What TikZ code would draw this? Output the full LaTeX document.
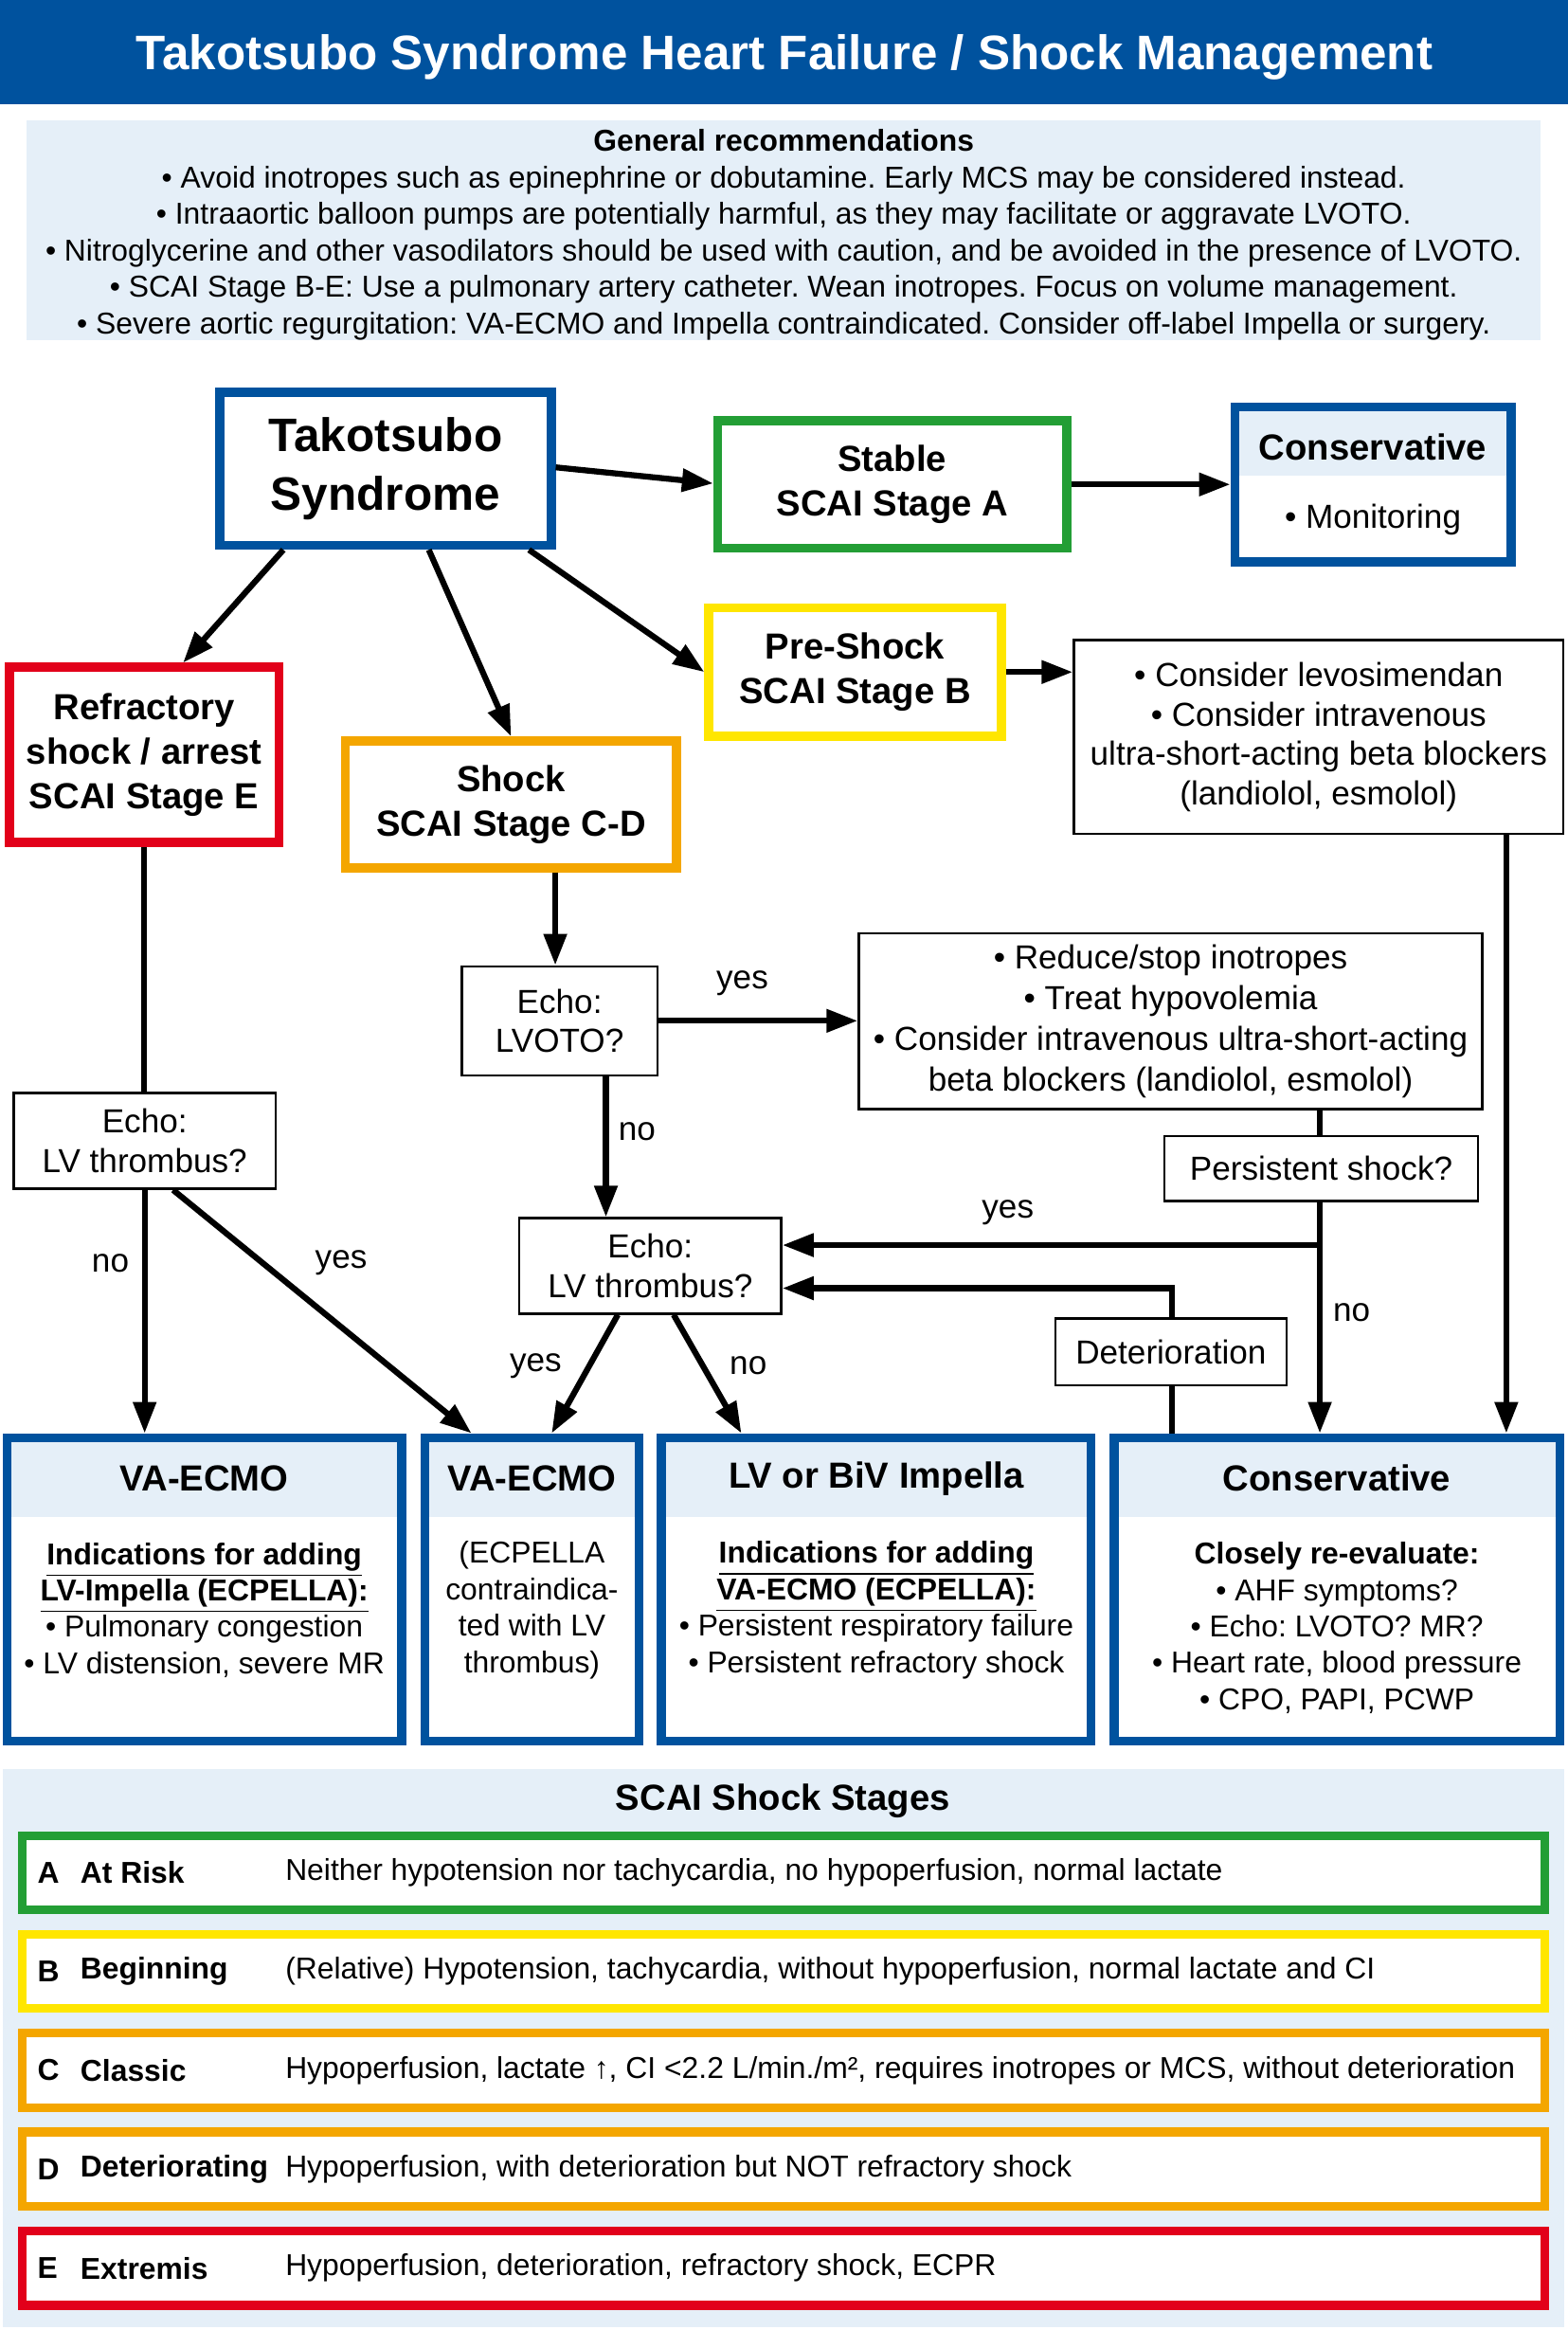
\documentclass[tikz,border=0pt]{standalone}
\usepackage{fontspec}
\setmainfont{Liberation Sans}
\usetikzlibrary{arrows.meta,fit,calc}
\definecolor{tblue}{RGB}{0,82,158}
\definecolor{lblue}{RGB}{229,239,248}
\definecolor{sgreen}{RGB}{35,158,53}
\definecolor{syellow}{RGB}{255,230,0}
\definecolor{sorange}{RGB}{244,166,0}
\definecolor{sred}{RGB}{226,0,26}
\newcommand\ftitle{\fontsize{16.3}{19}\selectfont\bfseries}
\newcommand\ftako{\fontsize{15.8}{19.75}\selectfont\bfseries}
\newcommand\fhead{\fontsize{12.2}{15}\selectfont\bfseries}
\newcommand\fbody{\fontsize{11.2}{13.3}\selectfont}
\newcommand\fbodyb{\fontsize{11.2}{13.8}\selectfont}
\newcommand\fsmall{\fontsize{10.15}{12.25}\selectfont}
\frenchspacing
\tikzset{
  sbox/.style={draw=#1, line width=3pt, inner sep=0pt, align=center, font=\fhead},
  rowbox/.style={draw=#1, fill=white, line width=3pt, inner sep=0pt},
  tbox/.style={draw=black, line width=0.8pt, inner sep=0pt, align=center, font=\fbody},
  sz/.style n args={2}{minimum width=#1pt, minimum height=#2pt},
  arr/.style={line width=2pt, -{Triangle[length=10.5pt,width=7.5pt]}},
  ln/.style={line width=2pt},
  lbl/.style={font=\fbody, inner sep=0pt},
  rtxt/.style={font=\fsmall, inner sep=0pt, anchor=west},
  rtxtb/.style={font=\fsmall\bfseries, inner sep=0pt, anchor=west},
}
\begin{document}
\begin{tikzpicture}[x=0.5pt,y=-0.5pt]
\useasboundingbox (0,0) rectangle (1055,1568);
% header
\fill[tblue] (0,0) rectangle (1055,70);
\node[text=white,font=\ftitle] (title) at (528,38.5) {Takotsubo Syndrome Heart Failure / Shock Management};
% general recommendations
\fill[lblue] (18,81) rectangle (1037,229);
\node[font=\fsmall,align=center,inner sep=0pt] (genrec) at (527.5,158) {\textbf{General recommendations}\\
• Avoid inotropes such as epinephrine or dobutamine. Early MCS may be considered instead.\\
• Intraaortic balloon pumps are potentially harmful, as they may facilitate or aggravate LVOTO.\\
• Nitroglycerine and other vasodilators should be used with caution, and be avoided in the presence of LVOTO.\\
• SCAI Stage B-E: Use a pulmonary artery catheter. Wean inotropes. Focus on volume management.\\
• Severe aortic regurgitation: VA-ECMO and Impella contraindicated. Consider off-label Impella or surgery.};
% flowchart boxes
\node[sbox=tblue,sz={111.5}{51.5},font=\ftako] (tako) at (259.5,315.5) {Takotsubo\\Syndrome};
\node[sbox=sgreen,sz={117.5}{43}] (stable) at (600.5,326) {Stable\\SCAI Stage A};
\fill[lblue] (831,274) rectangle (1017,320);
\node[sbox=tblue,sz={93}{52}] (constop) at (924,326) {};
\node[font=\fhead,inner sep=0pt] (constoph) at (924,301) {Conservative};
\node[font=\fbody,inner sep=0pt] (constopb) at (924,349.6) {• Monitoring};
\node[sbox=syellow,sz={98.5}{43.25}] (pre) at (575.5,452.25) {Pre-Shock\\SCAI Stage B};
\node[tbox,sz={164.7}{65.2}] (levo) at (887.5,496) {• Consider levosimendan\\• Consider intravenous\\ultra-short-acting beta blockers\\(landiolol, esmolol)};
\node[sbox=sred,sz={90.65}{59}] (refr) at (97.05,508) {Refractory\\shock / arrest\\SCAI Stage E};
\node[sbox=sorange,sz={111.4}{42.7}] (shock) at (344,541.3) {Shock\\SCAI Stage C-D};
\node[tbox,sz={88.15}{32.25}] (echoL) at (97.35,767.75) {Echo:\\LV thrombus?};
\node[tbox,sz={65.8}{36.65}] (lvoto) at (376.6,686.95) {Echo:\\LVOTO?};
\node[tbox,sz={209.85}{59.2},font=\fbodyb] (reduce) at (787.85,687.3) {• Reduce/stop inotropes\\• Treat hypovolemia\\• Consider intravenous ultra-short-acting\\beta blockers (landiolol, esmolol)};
\node[tbox,sz={105.45}{21.85}] (persist) at (889.25,786.35) {Persistent shock?};
\node[tbox,sz={88.15}{32.1}] (echoM) at (437.65,851.9) {Echo:\\LV thrombus?};
\node[tbox,sz={77.75}{22.55}] (deter) at (788.05,909.85) {Deterioration};
% bottom boxes
\fill[lblue] (4.7,967.5) rectangle (270.4,1020.8);
\fill[lblue] (285.9,967.5) rectangle (430.1,1020.8);
\fill[lblue] (445.2,967.5) rectangle (734.4,1020.8);
\fill[lblue] (749.8,967.5) rectangle (1049.8,1020.8);
\node[sbox=tblue,sz={132.85}{102}] (vae1) at (137.55,1069.5) {};
\node[sbox=tblue,sz={72.1}{102}] (vae2) at (358,1069.5) {};
\node[sbox=tblue,sz={144.6}{102}] (imp) at (589.8,1069.5) {};
\node[sbox=tblue,sz={150}{102}] (consB) at (899.8,1069.5) {};
\node[font=\fhead,inner sep=0pt] (vae1h) at (137.5,994.9) {VA-ECMO};
\node[font=\fhead,inner sep=0pt] (vae2h) at (358,994.9) {VA-ECMO};
\node[font=\fhead,inner sep=0pt] (imph) at (589.8,994.9) {LV or BiV Impella};
\node[font=\fhead,inner sep=0pt] (consBh) at (899.8,994.9) {Conservative};
\node[font=\fsmall,align=center,inner sep=0pt] (vae1b) at (137.5,1083.5) {\textbf{\underline{Indications for adding}}\\\textbf{\underline{LV-Impella (ECPELLA):}}\\• Pulmonary congestion\\• LV distension, severe MR};
\node[font=\fsmall,align=center,inner sep=0pt] (vae2b) at (358,1083.5) {(ECPELLA\\contraindica-\\ted with LV\\thrombus)};
\node[font=\fsmall,align=center,inner sep=0pt] (impb) at (589.8,1083.5) {\textbf{\underline{Indications for adding}}\\\textbf{\underline{VA-ECMO (ECPELLA):}}\\• Persistent respiratory failure\\• Persistent refractory shock};
\node[font=\fsmall,align=center,inner sep=0pt] (consBb) at (899.8,1095.5) {\textbf{Closely re-evaluate:}\\• AHF symptoms?\\• Echo: LVOTO? MR?\\• Heart rate, blood pressure\\• CPO, PAPI, PCWP};
% helper coordinates
\coordinate (t1) at ($(tako.north east)+(0,53.5)$);
\coordinate (t2) at ($(stable.north west)+(0,45.3)$);
\coordinate (t3) at ($(tako.south west)+(45.7,0)$);
\coordinate (t4) at ($(refr.north west)+(119.8,0)$);
\coordinate (t5) at ($(tako.south west)+(143.6,0)$);
\coordinate (t6) at ($(tako.south west)+(211,0)$);
\coordinate (e1) at ($(echoL.south west)+(108.1,0)$);
\coordinate (e2) at ($(vae2.north west)+(34.4,0)$);
\coordinate (s1) at ($(shock.south west)+(144.1,0)$);
\coordinate (l1) at ($(lvoto.south west)+(97.8,0)$);
\coordinate (m1) at ($(echoM.south west)+(67.1,0)$);
\coordinate (m2) at ($(vae2.north west)+(88.4,0)$);
\coordinate (m3) at ($(echoM.south west)+(104.7,0)$);
\coordinate (m4) at ($(imp.north west)+(56.8,0)$);
\coordinate (p1) at ($(persist.south west)+(105.3,0)$);
\coordinate (ye) at ($(echoM.east)+(0,-14)$);
\coordinate (de) at ($(echoM.east)+(0,15)$);
\coordinate (d1) at ($(deter.north west)+(79.1,0)$);
\coordinate (v1) at ($(levo.south west)+(291.8,0)$);
% connectors
\draw[arr] (t1) -- (t2);
\draw[arr] (stable.east) -- (constop.west);
\draw[arr] (t3) -- (t4);
\draw[arr] (t5) -- (shock.north);
\draw[arr] (t6) -- (pre.west);
\draw[arr] (pre.east) -- (pre.east -| levo.west);
\draw[ln] (refr.south) -- (refr.south |- echoL.north);
\draw[arr] (echoL.south) -- (echoL.south |- vae1.north);
\draw[arr] (e1) -- (e2);
\draw[arr] (s1) -- (s1 |- lvoto.north);
\draw[arr] (lvoto.east) -- (lvoto.east -| reduce.west);
\draw[arr] (l1) -- (l1 |- echoM.north);
\draw[arr] (m1) -- (m2);
\draw[arr] (m3) -- (m4);
\draw[ln] (p1 |- reduce.south) -- (p1 |- persist.north);
\draw[arr] (p1) -- (p1 |- consB.north);
\draw[arr] (p1 |- ye) -- (ye);
\draw[arr] (d1) |- (de);
\draw[ln] (d1 |- deter.south) -- (d1 |- consB.north);
\draw[arr] (v1) -- (v1 |- consB.north);
% labels
\node[lbl] (lno1) at (74.3,850) {no};
\node[lbl] (lyes1) at (229.6,850) {yes};
\node[lbl] (lyes2) at (499.6,662) {yes};
\node[lbl] (lno2) at (428.7,761.7) {no};
\node[lbl] (lyes3) at (360.5,919.3) {yes};
\node[lbl] (lno3) at (503.6,919.3) {no};
\node[lbl] (lyes4) at (678.3,815.9) {yes};
\node[lbl] (lno4) at (909.7,883.5) {no};
% SCAI stages
\fill[lblue] (2,1190.2) rectangle (1052.8,1566.3);
\node[font=\fhead,inner sep=0pt] (scaih) at (527,1212) {SCAI Shock Stages};
\node[rowbox=sgreen,fit={(15.1,1235.3)(1039.7,1285.1)}] (rowA) {};
\node[rowbox=syellow,fit={(15.1,1301.7)(1039.7,1351.5)}] (rowB) {};
\node[rowbox=sorange,fit={(15.1,1368.1)(1039.7,1418.4)}] (rowC) {};
\node[rowbox=sorange,fit={(15.1,1434.8)(1039.7,1484.8)}] (rowD) {};
\node[rowbox=sred,fit={(15.1,1501.2)(1039.7,1551.4)}] (rowE) {};
\node[rtxtb] (rowAl) at (24.9,1260.2) {A};
\node[rtxtb] (rowAn) at (53.8,1260.2) {At Risk};
\node[rtxt] (rowAd) at (191.7,1260.2) {Neither hypotension nor tachycardia, no hypoperfusion, normal lactate};
\node[rtxtb] (rowBl) at (24.9,1326.6) {B};
\node[rtxtb] (rowBn) at (53.8,1326.6) {Beginning};
\node[rtxt] (rowBd) at (191.7,1326.6) {(Relative) Hypotension, tachycardia, without hypoperfusion, normal lactate and CI};
\node[rtxtb] (rowCl) at (24.9,1393.25) {C};
\node[rtxtb] (rowCn) at (53.8,1393.25) {Classic};
\node[rtxt] (rowCd) at (191.7,1393.25) {Hypoperfusion, lactate ↑, CI <2.2 L/min./m², requires inotropes or MCS, without deterioration};
\node[rtxtb] (rowDl) at (24.9,1459.8) {D};
\node[rtxtb] (rowDn) at (53.8,1459.8) {Deteriorating};
\node[rtxt] (rowDd) at (191.7,1459.8) {Hypoperfusion, with deterioration but NOT refractory shock};
\node[rtxtb] (rowEl) at (24.9,1526.3) {E};
\node[rtxtb] (rowEn) at (53.8,1526.3) {Extremis};
\node[rtxt] (rowEd) at (191.7,1526.3) {Hypoperfusion, deterioration, refractory shock, ECPR};
\end{tikzpicture}
\end{document}
